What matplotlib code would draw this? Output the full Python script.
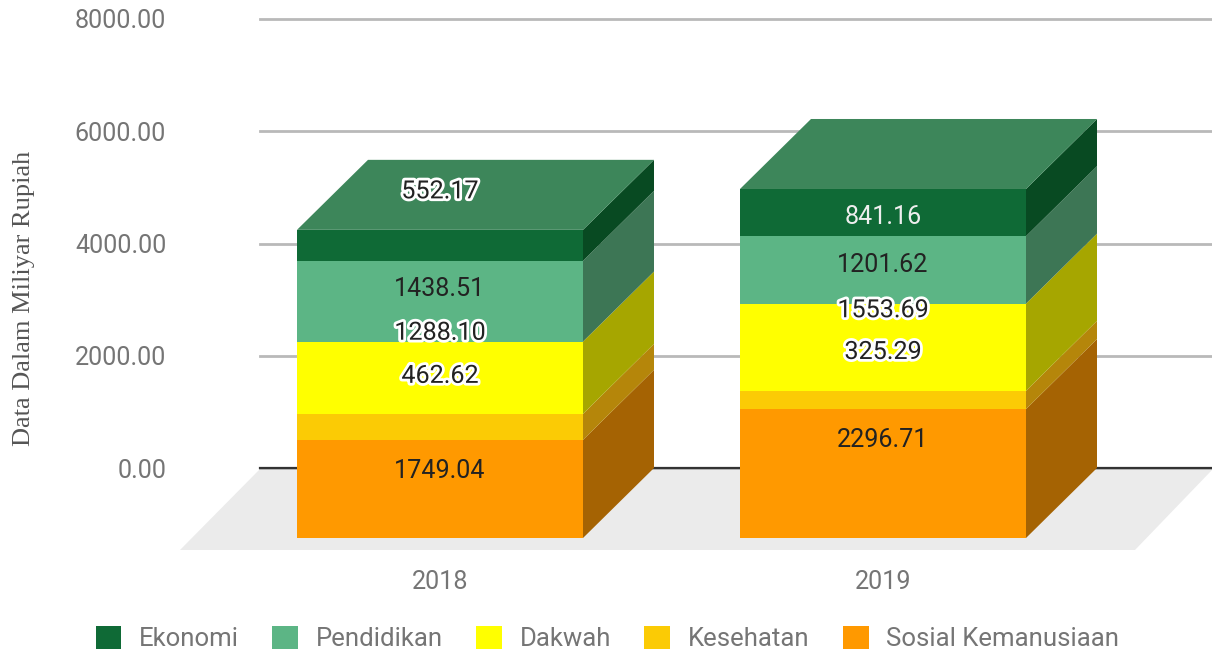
import matplotlib
matplotlib.use('Agg')
import matplotlib.pyplot as plt
import matplotlib.patheffects as pe
from matplotlib.patches import Patch, Polygon, Rectangle

plt.rcParams['font.family'] = ['Roboto', 'DejaVu Sans']

years = ['2018', '2019']
categories = ['Sosial Kemanusiaan', 'Kesehatan', 'Dakwah', 'Pendidikan', 'Ekonomi']
sosial = [1749.04, 2296.71]
kesehatan = [462.62, 325.29]
dakwah = [1288.10, 1553.69]
pendidikan = [1438.51, 1201.62]
ekonomi = [552.17, 841.16]
series = [sosial, kesehatan, dakwah, pendidikan, ekonomi]
y_ticks = [0, 2000, 4000, 6000, 8000]

front_cols = ['#ff9900', '#fbcb05', '#ffff00', '#5cb585', '#0f6a36']
side_cols = ['#a56303', '#b5860a', '#a6a600', '#3d7655', '#084a22']
top_col = '#3d865a'

# figure size in pixels and where the back plane sits
W, H = 1212, 652
PX_LEFT, PX_RIGHT, PX_TOP, PX_ZERO = 260, 1212, 19, 468
PX_X0, PX_STEP = 440, 443
UNIT = 8000 / (PX_ZERO - PX_TOP)  # value per pixel
DX = 71 / PX_STEP
DY = 70 * UNIT
HALF = 143 / PX_STEP

# how far each label sits above the middle of its front face (pixels)
lifts = [[18, 51, 45, 12, 54], [34, 48, 37, 5, -4]]
halos = [[False, True, True, False, True], [False, True, True, False, False]]
text_cols = [['#222222'] * 5, ['#222222'] * 4 + ['#eeeeee']]

fig = plt.figure(figsize=(W / 100, H / 100), dpi=100)
ax = fig.add_axes([PX_LEFT / W, 1 - PX_ZERO / H, (PX_RIGHT - PX_LEFT) / W, (PX_ZERO - PX_TOP) / H])
ax.set_xlim((PX_LEFT - PX_X0) / PX_STEP, (PX_RIGHT - PX_X0) / PX_STEP)
ax.set_ylim(0, 8000)

for s in ['top', 'left', 'right']:
    ax.spines[s].set_visible(False)
ax.spines['bottom'].set_color('#333333')
ax.spines['bottom'].set_linewidth(1.6)
ax.set_axisbelow(True)
ax.grid(axis='y', color='#b9b9b9', linewidth=2.0, clip_on=False)
ax.grid(axis='x', visible=False)

ax.set_yticks(y_ticks)
ax.set_yticklabels(['%.2f' % t for t in y_ticks])
ax.set_xticks(range(len(years)))
ax.set_xticklabels(years)
ax.tick_params(axis='y', length=0, pad=67.5, labelsize=18.1, labelcolor='#757575')
ax.tick_params(axis='x', length=0, pad=73.5, labelsize=18.1, labelcolor='#757575')

# floor
floor = Polygon([[(180 - PX_X0) / PX_STEP, -82 * UNIT],
                 [(1135 - PX_X0) / PX_STEP, -82 * UNIT],
                 [(1212 - PX_X0) / PX_STEP, -2 * UNIT],
                 [(259 - PX_X0) / PX_STEP, -2 * UNIT]],
                closed=True, facecolor='#ebebeb', edgecolor='none', clip_on=False, zorder=1)
ax.add_patch(floor)

for i in range(len(years)):
    bottom = 0
    for j, vals in enumerate(series):
        v = vals[i]
        top = bottom + v
        l, r = i - HALF, i + HALF
        ax.add_patch(Rectangle((l, bottom - DY), r - l, v, facecolor=front_cols[j],
                               edgecolor='none', clip_on=False, zorder=3))
        ax.add_patch(Polygon([[r, bottom - DY], [r + DX, bottom], [r + DX, top], [r, top - DY]],
                             closed=True, facecolor=side_cols[j], edgecolor='none',
                             clip_on=False, zorder=3))
        if j == len(series) - 1:
            ax.add_patch(Polygon([[l, top - DY], [r, top - DY], [r + DX, top], [l + DX, top]],
                                 closed=True, facecolor=top_col, edgecolor='none',
                                 clip_on=False, zorder=3))
        y_lab = bottom + v / 2 - DY + lifts[i][j] * UNIT
        t = ax.text(i, y_lab, '%.2f' % v, ha='center', va='center', fontsize=18.1,
                    color=text_cols[i][j], zorder=5, clip_on=False)
        if halos[i][j]:
            t.set_path_effects([pe.withStroke(linewidth=4, foreground='white')])
        bottom = top

ax.set_ylabel('Data Dalam Miliyar Rupiah', family='Liberation Serif', fontsize=19, color='#555555')
ax.yaxis.set_label_coords((35 - PX_LEFT) / (PX_RIGHT - PX_LEFT), (PX_ZERO - 298) / (PX_ZERO - PX_TOP))

# legend runs from the top of the stack down to the bottom
order = list(range(len(categories)))[::-1]
handles = [Patch(facecolor=front_cols[k], edgecolor='none', label=categories[k]) for k in order]
fig.legend(handles=handles, loc='lower left', bbox_to_anchor=(95 / W, 0), ncol=5, frameon=False,
           fontsize=18.5, labelcolor='#757575', borderpad=0, borderaxespad=0.02,
           handlelength=1.0, handleheight=1.0, handletextpad=0.69, columnspacing=1.3)

fig.savefig('out.png', dpi=100)
